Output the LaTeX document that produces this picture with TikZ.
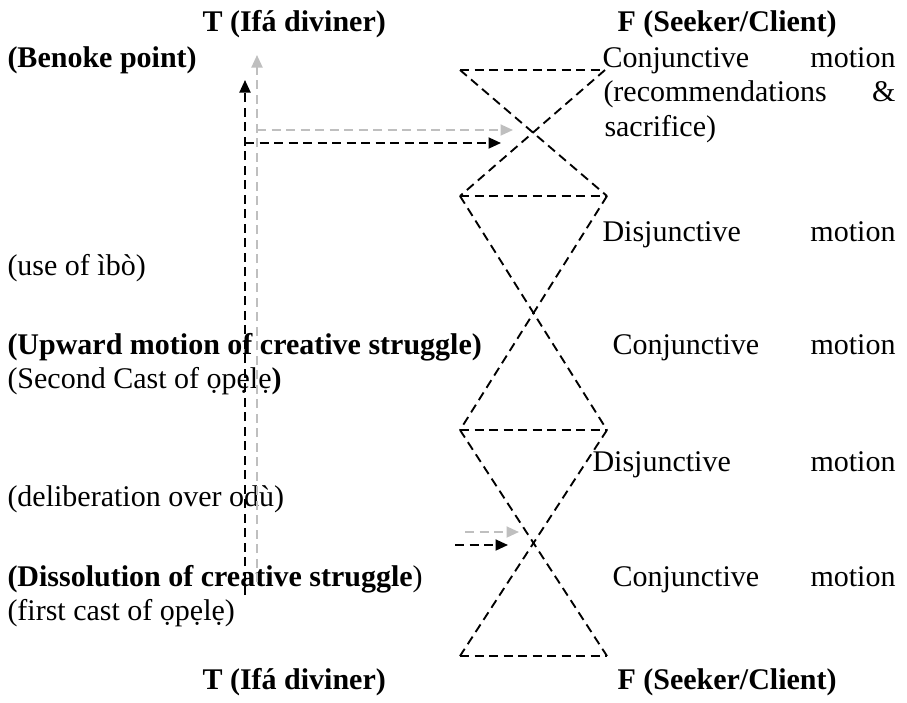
\documentclass[tikz,border=0pt]{standalone}
\usepackage{fontspec}
\setmainfont{Liberation Serif}
\usetikzlibrary{arrows.meta}
\definecolor{lgray}{RGB}{191,191,191}
\begin{document}
\begin{tikzpicture}[x=0.4pt,y=-0.4pt,
  txt/.style={anchor=base west, inner sep=0pt, font=\fontsize{12}{13.8}\selectfont},
  hdr/.style={txt, font=\fontsize{12}{13.8}\selectfont\bfseries},
  dl/.style={line width=0.75pt, dash pattern=on 3.6pt off 2.2pt},
  arr/.style={dl, -{Triangle[length=5pt,width=4.4pt]}},
  garr/.style={arr, lgray},
]
\useasboundingbox (0,0) rectangle (907,702);

% headers
\node[hdr] (t1) at (202,31) {T (Ifá diviner)};
\node[hdr] (f1) at (617,31) {F (Seeker/Client)};
\node[hdr] (t2) at (202,689) {T (Ifá diviner)};
\node[hdr] (f2) at (617,689) {F (Seeker/Client)};

% left texts
\node[hdr] (benoke) at (7,67) {(Benoke point)};
\node[txt] (ibo) at (7,275.5) {(use of ìbò)};
\node[hdr] (upward) at (7,354) {(Upward motion of creative struggle)};
\node[txt] (second) at (7,388.5) {(Second Cast of ọpẹlẹ\textbf{)}};
\node[txt] (delib) at (7,506) {(deliberation over odù)};
\node[txt] (dissol) at (7,586) {\textbf{(Dissolution of creative struggle}){}};
\node[txt] (first) at (7,620.5) {(first cast of ọpẹlẹ)};

% right texts
\node[txt] (c1a) at (602,67) {\hbox to 117.2pt{Conjunctive\hfil motion}};
\node[txt] (c1b) at (603,101.5) {\hbox to 116.8pt{(recommendations\hfil \&}};
\node[txt] (c1c) at (604,136) {sacrifice)};
\node[txt] (d1) at (602,241) {\hbox to 117.2pt{Disjunctive\hfil motion}};
\node[txt] (c2) at (612,354) {\hbox to 113.2pt{Conjunctive\hfil motion}};
\node[txt] (d2) at (592,471.5) {\hbox to 121.2pt{Disjunctive\hfil motion}};
\node[txt] (c3) at (612,586) {\hbox to 113.2pt{Conjunctive\hfil motion}};

% hourglass vertices
\coordinate (L0) at (460,70);  \coordinate (R0) at (605,70);
\coordinate (L1) at (460,196); \coordinate (R1) at (607,196);
\coordinate (L2) at (460,430); \coordinate (R2) at (607,430);
\coordinate (L3) at (460,656); \coordinate (R3) at (607,656);

\draw[dl] (L0) -- (R0);
\draw[dl] (L0) -- (R1);
\draw[dl] (R0) -- (L1);
\draw[dl] (L1) -- (R1);
\draw[dl] (L1) -- (R2);
\draw[dl] (R1) -- (L2);
\draw[dl] (L2) -- (R2);
\draw[dl] (L2) -- (R3);
\draw[dl] (R2) -- (L3);
\draw[dl] (L3) -- (R3);

% vertical arrows
\coordinate (gv0) at (257,582); \coordinate (gv1) at (257,55);
\coordinate (bv0) at (245,595); \coordinate (bv1) at (245,80);
\draw[garr] (gv0) -- (gv1);
\draw[arr] (bv0) -- (bv1);

% horizontal arrows at top
\coordinate (gh0) at (257,130); \coordinate (gh1) at (513,130);
\coordinate (bh0) at (245,143); \coordinate (bh1) at (501,143);
\draw[garr] (gh0) -- (gh1);
\draw[arr] (bh0) -- (bh1);

% small arrows at bottom
\coordinate (gs0) at (465,532); \coordinate (gs1) at (519,532);
\coordinate (bs0) at (455,545); \coordinate (bs1) at (508,545);
\draw[garr] (gs0) -- (gs1);
\draw[arr] (bs0) -- (bs1);
\end{tikzpicture}
\end{document}
